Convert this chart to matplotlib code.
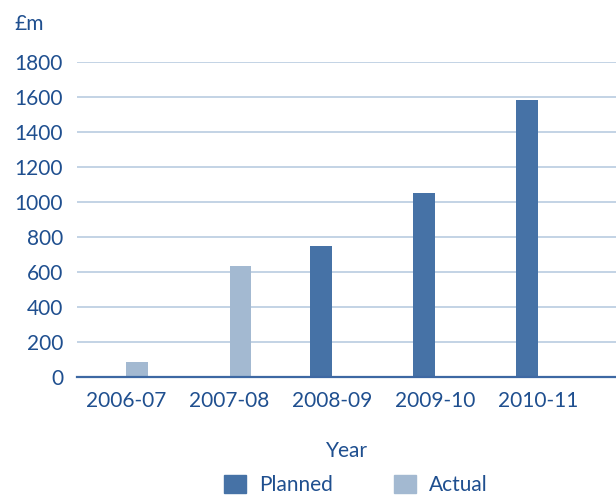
import matplotlib
matplotlib.use("Agg")
import matplotlib.pyplot as plt
from matplotlib.patches import Patch
import numpy as np

years = ["2006-07", "2007-08", "2008-09", "2009-10", "2010-11"]
planned = [0, 0, 750, 1050, 1585]
actual = [85, 635, 0, 0, 0]
yticks = [0, 200, 400, 600, 800, 1000, 1200, 1400, 1600, 1800]

c_planned = "#4672a6"
c_actual = "#a3b9d1"
c_text = "#1f4f8f"
c_grid = "#b3c7de"

plt.rcParams['font.family'] = ['Lato', 'DejaVu Sans']
fs = 15

fig = plt.figure(figsize=(6.16, 4.95), dpi=100)
ax = fig.add_axes([77/616, 1-377/495, 1-77/616, (377-62.3)/495])

x = np.arange(len(years))
w = 0.21
ax.bar(x - 0.11, planned, width=w, color=c_planned, zorder=3)
ax.bar(x + 0.11, actual, width=w, color=c_actual, zorder=3)

ax.set_ylim(0, 1800)
ax.set_xlim(-0.475, 4.755)
ax.set_yticks(yticks)
ax.set_yticklabels([str(v) for v in yticks])
ax.set_xticks(x)
ax.set_xticklabels(years)
for v in yticks[1:]:
    ax.axhline(v, color=c_grid, lw=1.1, zorder=1)
ax.axhline(0, color="#3d68a3", lw=1.6, zorder=4, clip_on=False)
for s in ax.spines.values():
    s.set_visible(False)
ax.tick_params(axis='both', length=0, labelsize=fs, colors=c_text)
ax.tick_params(axis='y', pad=10)
ax.tick_params(axis='x', pad=10)
ax.set_xlabel("Year", fontsize=fs, color=c_text, labelpad=22)

fig.text(14/616, 1-24/495, "£m", fontsize=fs, color=c_text, va='center', ha='left')

handles = [Patch(color=c_planned, label="Planned"), Patch(color=c_actual, label="Actual")]
fig.legend(handles=handles, loc='center', bbox_to_anchor=(356/616, 1-485/495), ncol=2,
           frameon=False, fontsize=fs, labelcolor=c_text, handlelength=1.05,
           handleheight=1.0, handletextpad=0.65, columnspacing=2.9)

fig.savefig("out.png", dpi=100)
